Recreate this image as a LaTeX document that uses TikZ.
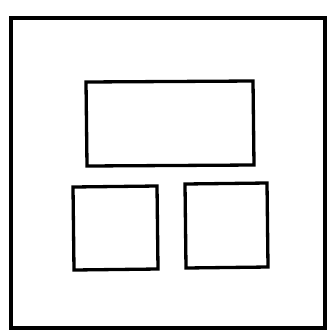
\documentclass[tikz,border=0pt]{standalone}
\begin{document}
\begin{tikzpicture}[x=1pt,y=-1pt,box/.style={draw=black,line width=3.3pt,line join=miter}]
\useasboundingbox (0,0) rectangle (331,330);
\fill[white] (0,0) rectangle (331,330);
\draw[box] (11,18) rectangle (325,328);
\draw[box] (86,82) -- (253,81) -- (254,165) -- (87,166) -- cycle;
\draw[box] (73,187) -- (157,186) -- (158,269) -- (74,270) -- cycle;
\draw[box] (185,184) -- (267,183) -- (268,267) -- (186,268) -- cycle;
\end{tikzpicture}
\end{document}
